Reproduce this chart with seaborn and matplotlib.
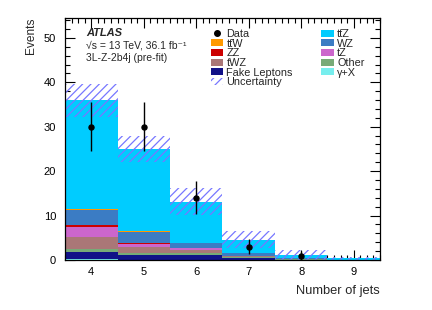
import numpy as np
import pandas as pd
import matplotlib
matplotlib.use("Agg")
import matplotlib.pyplot as plt
from matplotlib.patches import Patch
from matplotlib.lines import Line2D
from matplotlib.ticker import MultipleLocator
import seaborn as sns

# ---------------- data ----------------
jets = [4, 5, 6, 7, 8, 9]
ttZ    = [24.5, 18.5, 9.2, 3.0, 0.7, 0.3]
ttW    = [0.3, 0.1, 0.05, 0.02, 0.0, 0.0]
WZ     = [3.4, 2.6, 1.15, 0.5, 0.12, 0.03]
ZZ     = [0.3, 0.2, 0.1, 0.03, 0.0, 0.0]
tZ     = [2.3, 0.6, 0.35, 0.1, 0.03, 0.0]
tWZ    = [2.7, 1.5, 0.75, 0.25, 0.1, 0.03]
Other  = [0.6, 0.4, 0.4, 0.15, 0.05, 0.0]
Fake   = [1.6, 1.0, 1.05, 0.45, 0.1, 0.02]
gammaX = [0.3, 0.1, 0.05, 0.02, 0.0, 0.0]
uncert = [3.7, 3.0, 3.0, 1.9, 1.1, 0.4]
data_obs = [30, 30, 14, 3, 1, np.nan]

processes = {
    "ttZ": ttZ, "ttW": ttW, "WZ": WZ, "ZZ": ZZ, "tZ": tZ,
    "tWZ": tWZ, "Other": Other, "Fake": Fake, "gammaX": gammaX,
}
# top of stack first
hue_order = ["ttZ", "ttW", "WZ", "ZZ", "tZ", "tWZ", "Other", "Fake", "gammaX"]
colors = {
    "ttZ": "#00ccff", "ttW": "#ff9900", "WZ": "#3b7cc4", "ZZ": "#cc0000",
    "tZ": "#cc66cc", "tWZ": "#aa7777", "Other": "#77aa77", "Fake": "#111188",
    "gammaX": "#77eeee",
}
labels = {
    "ttZ": "tt\u0304Z", "ttW": "tt\u0304W", "WZ": "WZ",
    "ZZ": "ZZ", "tZ": "tZ", "tWZ": "tWZ", "Other": "Other",
    "Fake": "Fake Leptons", "gammaX": "\u03b3+X",
}
hatch_color = "#7777ff"

rows = []
for p, vals in processes.items():
    for j, v in zip(jets, vals):
        rows.append({"njets": j, "weight": v, "process": p})
df = pd.DataFrame(rows)

# ---------------- style ----------------
sns.set_style("ticks")
plt.rcParams["font.family"] = ["Liberation Sans", "DejaVu Sans"]
plt.rcParams["hatch.linewidth"] = 0.9

fig = plt.figure(figsize=(4.32, 3.10), dpi=100)
ax = fig.add_axes([0.1505, 0.1613, 0.729, 0.781])

sns.histplot(data=df, x="njets", weights="weight", hue="process",
             hue_order=hue_order, palette=colors, multiple="stack",
             discrete=True, alpha=1, linewidth=0, element="bars",
             legend=False, ax=ax)

total = np.sum([np.array(processes[p]) for p in hue_order], axis=0)
unc = np.array(uncert)
ax.bar(jets, 2 * unc, bottom=total - unc, width=1.0, fill=False,
       hatch="////", edgecolor=hatch_color, linewidth=0)

dvals = np.array(data_obs, dtype=float)
ax.errorbar(jets, dvals, yerr=np.sqrt(dvals), fmt="o", color="black",
            markersize=3.6, elinewidth=1.0, capsize=0)

ax.set_xlim(3.5, 9.5)
ax.set_ylim(0, 54.5)
ax.xaxis.set_major_locator(MultipleLocator(1))
ax.xaxis.set_minor_locator(MultipleLocator(0.125))
ax.yaxis.set_major_locator(MultipleLocator(10))
ax.yaxis.set_minor_locator(MultipleLocator(2))
ax.tick_params(which="both", direction="in", top=True, right=True,
               labelsize=8, width=0.8, colors="black")
ax.tick_params(which="major", length=7)
ax.tick_params(which="minor", length=3.5)
ax.tick_params(axis="x", which="major", pad=5)
ax.tick_params(axis="y", which="major", pad=6.5)
for s in ax.spines.values():
    s.set_linewidth(0.9)
    s.set_color("black")

ax.set_xlabel("Number of jets", fontsize=9.3, loc="right")
ax.set_ylabel("Events", fontsize=8.6, loc="top")
ax.xaxis.set_label_coords(1.0, -0.105)
ax.yaxis.set_label_coords(-0.09, 1.0)

ax.text(0.067, 0.938, "ATLAS", transform=ax.transAxes, fontsize=8,
        fontweight="bold", fontstyle="italic", va="center", ha="left")
ax.text(0.067, 0.888, "\u221as = 13 TeV, 36.1 fb\u207b\u00b9",
        transform=ax.transAxes, fontsize=7.5, va="center", ha="left")
ax.text(0.067, 0.835, "3L-Z-2b4j (pre-fit)", transform=ax.transAxes,
        fontsize=7.5, va="center", ha="left")

def patch(p):
    return Patch(facecolor=colors[p], edgecolor="none", label=labels[p])

handles = [
    Line2D([], [], marker="o", color="black", linestyle="none",
           markersize=4, label="Data"),
    patch("ttW"), patch("ZZ"), patch("tWZ"), patch("Fake"),
    Patch(facecolor="none", edgecolor=hatch_color, hatch="////",
          linewidth=0, label="Uncertainty"),
    patch("ttZ"), patch("WZ"), patch("tZ"), patch("Other"), patch("gammaX"),
]
fig.legend(handles=handles, ncol=2, loc="upper left",
           bbox_to_anchor=(210.5 / 432, 1 - 29.0 / 310),
           bbox_transform=fig.transFigure, frameon=False, fontsize=7.8,
           borderpad=0, borderaxespad=0, labelspacing=-0.03,
           handlelength=1.17, handleheight=0.62, handletextpad=0.3,
           columnspacing=2.62)

fig.savefig("out.png", dpi=100)
